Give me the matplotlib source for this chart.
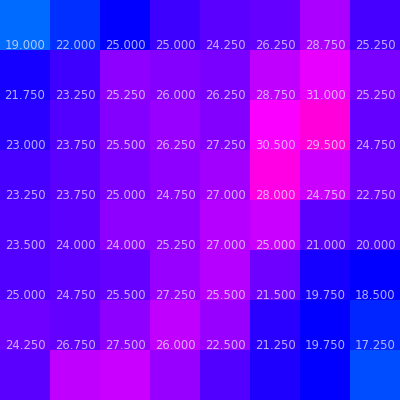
import numpy as np
import matplotlib
matplotlib.use("Agg")
import matplotlib.pyplot as plt
from matplotlib.colors import LinearSegmentedColormap, Normalize


# cell values (8 x 8 grid)
cells = np.array([
    [15.4, 16.6, 17.6, 20.6, 22.1, 22.6, 26.1, 21.1],
    [18.6, 20.6, 24.6, 24.1, 23.6, 27.1, 29.1, 23.6],
    [19.6, 21.6, 24.1, 25.1, 24.1, 30.0, 31.4, 22.6],
    [21.1, 22.1, 23.6, 24.6, 25.6, 31.1, 27.6, 23.1],
    [21.6, 22.1, 24.6, 24.6, 26.6, 27.6, 22.1, 21.1],
    [21.6, 22.1, 22.6, 25.1, 26.6, 23.1, 18.6, 17.6],
    [23.1, 22.6, 24.6, 27.1, 25.1, 19.6, 17.6, 16.8],
    [22.1, 27.1, 27.6, 25.1, 21.6, 19.1, 17.6, 16.0],
])

# labels drawn on the boundaries between rows
labels = np.array([
    [19.000, 22.000, 25.000, 25.000, 24.250, 26.250, 28.750, 25.250],
    [21.750, 23.250, 25.250, 26.000, 26.250, 28.750, 31.000, 25.250],
    [23.000, 23.750, 25.500, 26.250, 27.250, 30.500, 29.500, 24.750],
    [23.250, 23.750, 25.000, 24.750, 27.000, 28.000, 24.750, 22.750],
    [23.500, 24.000, 24.000, 25.250, 27.000, 25.000, 21.000, 20.000],
    [25.000, 24.750, 25.500, 27.250, 25.500, 21.500, 19.750, 18.500],
    [24.250, 26.750, 27.500, 26.000, 22.500, 21.250, 19.750, 17.250],
])

cmap = LinearSegmentedColormap.from_list(
    "bluemag",
    [(0.0, "#0080ff"), (0.15, "#0000ff"), (0.9, "#ff00ff"), (1.0, "#ff00c8")])
norm = Normalize(vmin=15, vmax=32)

fig = plt.figure(figsize=(4, 4), dpi=100)
ax = fig.add_axes([0, 0, 1, 1])
ax.imshow(cells, cmap=cmap, norm=norm, aspect="auto", interpolation="nearest")

for i in range(labels.shape[0]):
    for j in range(labels.shape[1]):
        # baseline sits just on the top edge of the next row
        ax.text(j, i + 0.48, "%.3f" % labels[i, j], ha="center", va="baseline",
                color="#e6e0ff", alpha=0.78, fontsize=8.4, family="DejaVu Sans")

ax.set_xlim(-0.5, 7.5)
ax.set_ylim(7.5, -0.5)
ax.axis("off")

fig.savefig("out.png", dpi=100)
